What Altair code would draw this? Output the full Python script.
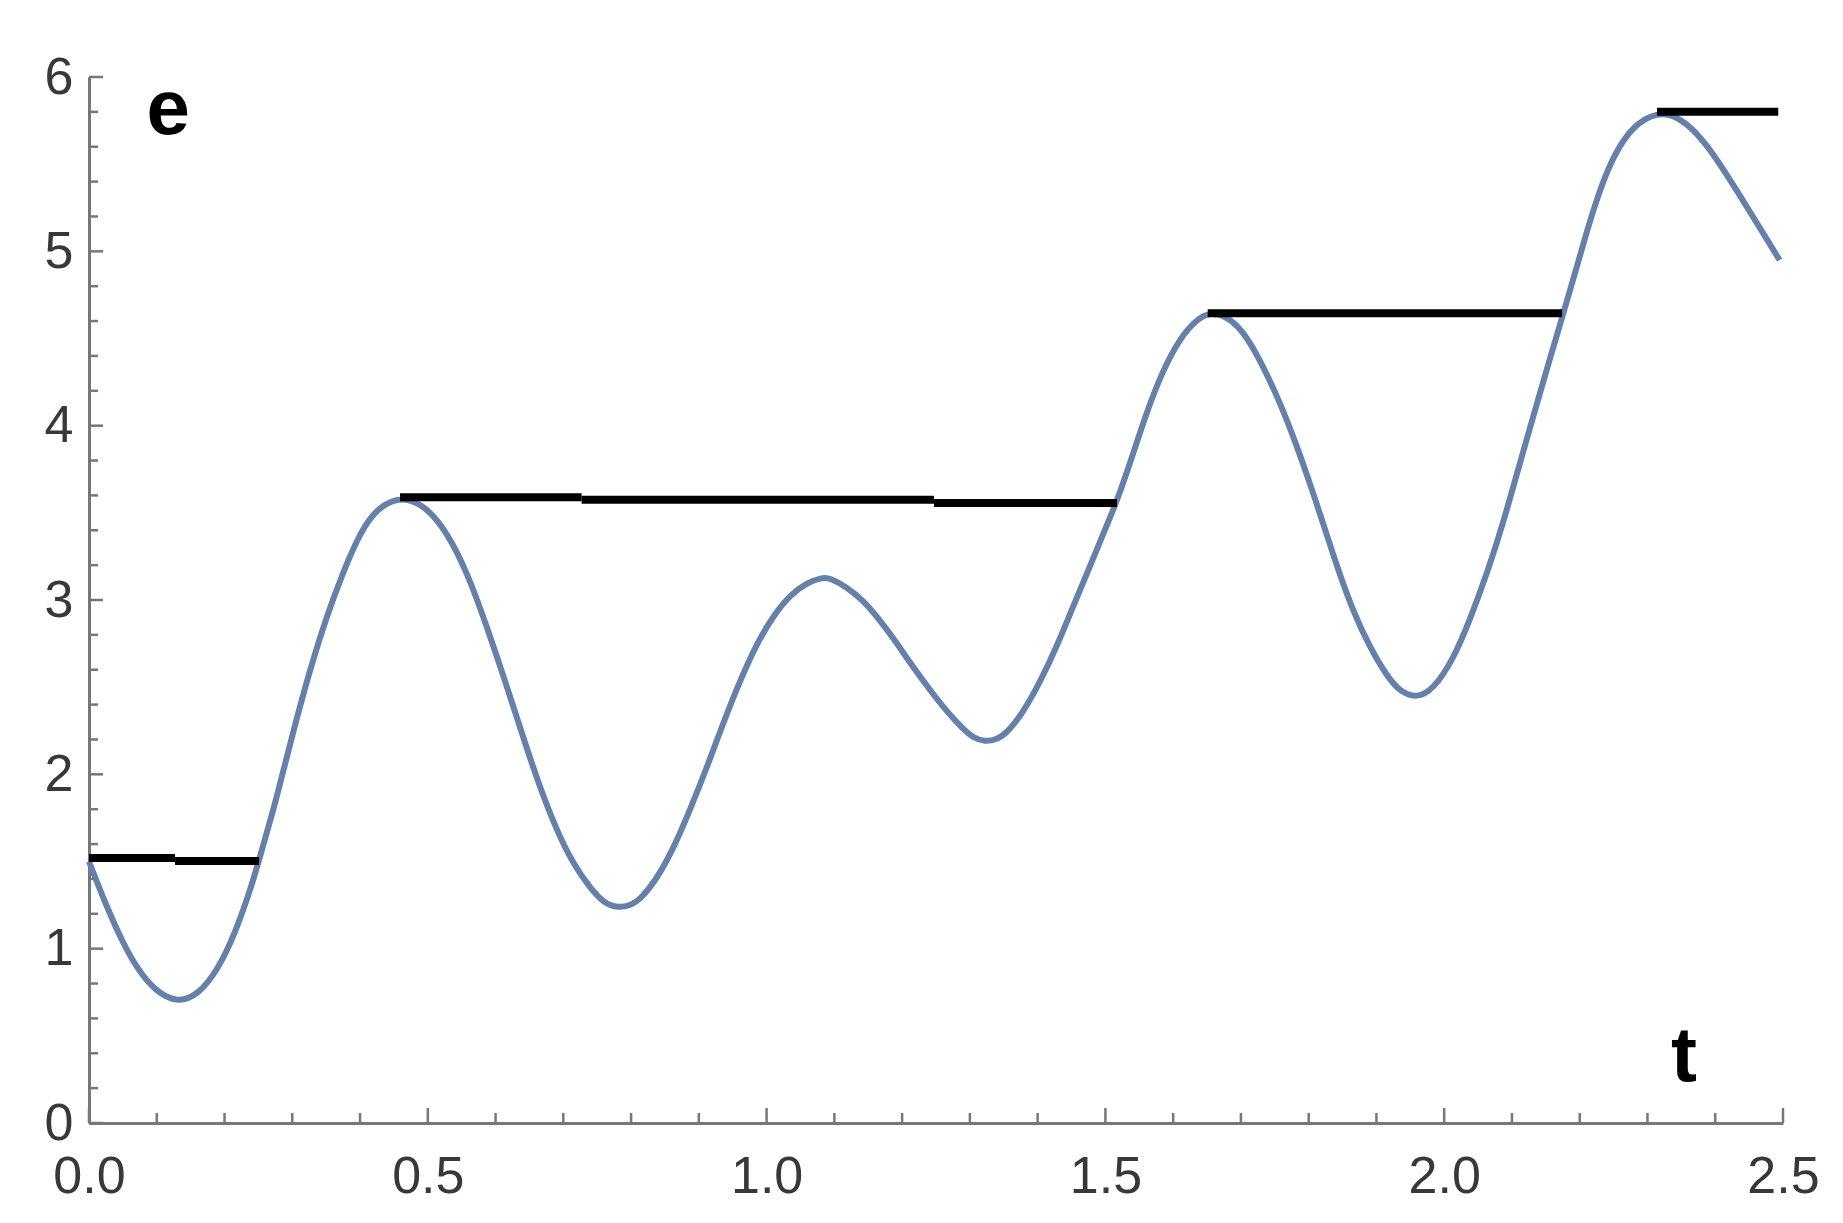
import altair as alt
import pandas as pd

# ---- data ----
T = [0.000, 0.024, 0.049, 0.072, 0.097, 0.130, 0.161, 0.190, 0.215, 0.240, 0.251,
     0.270, 0.277, 0.301, 0.326, 0.351, 0.375, 0.400, 0.425, 0.463, 0.499, 0.528,
     0.558, 0.587, 0.617, 0.646, 0.666, 0.690, 0.714, 0.739, 0.760, 0.781, 0.800,
     0.813, 0.838, 0.862, 0.887, 0.912, 0.936, 0.961, 0.986, 1.010, 1.035, 1.060,
     1.083, 1.094, 1.118, 1.142, 1.167, 1.192, 1.216, 1.241, 1.266, 1.290, 1.305,
     1.322, 1.340, 1.355, 1.378, 1.403, 1.429, 1.452, 1.477, 1.500, 1.516, 1.536,
     1.561, 1.585, 1.610, 1.632, 1.654, 1.684, 1.709, 1.733, 1.758, 1.783, 1.806,
     1.817, 1.842, 1.865, 1.890, 1.916, 1.935, 1.960, 1.983, 2.013, 2.038, 2.063,
     2.087, 2.112, 2.137, 2.161, 2.186, 2.200, 2.220, 2.240, 2.259, 2.284, 2.323,
     2.358, 2.388, 2.417, 2.446, 2.476, 2.495]
E = [1.50, 1.26, 1.04, 0.88, 0.76, 0.688, 0.734, 0.878, 1.08, 1.36, 1.51,
     1.77, 1.87, 2.24, 2.60, 2.91, 3.16, 3.385, 3.53, 3.60, 3.53, 3.39,
     3.16, 2.85, 2.50, 2.15, 1.92, 1.68, 1.49, 1.35, 1.26, 1.233, 1.25,
     1.28, 1.40, 1.57, 1.796, 2.04, 2.295, 2.54, 2.754, 2.91, 3.03, 3.10,
     3.13, 3.125, 3.075, 3.00, 2.886, 2.754, 2.616, 2.484, 2.36, 2.26, 2.21,
     2.186, 2.20, 2.238, 2.352, 2.524, 2.74, 2.96, 3.19, 3.41, 3.557, 3.78,
     4.08, 4.32, 4.50, 4.60, 4.655, 4.62, 4.51, 4.34, 4.13, 3.88, 3.62,
     3.49, 3.19, 2.94, 2.73, 2.56, 2.473, 2.438, 2.484, 2.656, 2.886, 3.15,
     3.44, 3.79, 4.13, 4.45, 4.78, 4.97, 5.24, 5.46, 5.61, 5.74, 5.81,
     5.74, 5.61, 5.44, 5.26, 5.07, 4.95]

SEG_START = [0.0, 0.127, 0.459, 0.727, 1.247, 1.651, 2.314]
SEG_END = [0.127, 0.251, 0.727, 1.247, 1.517, 2.174, 2.493]
SEG_LEVEL = [1.52, 1.503, 3.59, 3.575, 3.557, 4.645, 5.80]

X_MAJOR = [0.0, 0.5, 1.0, 1.5, 2.0, 2.5]
X_MINOR = [0.1, 0.2, 0.3, 0.4, 0.6, 0.7, 0.8, 0.9, 1.1, 1.2, 1.3, 1.4,
           1.6, 1.7, 1.8, 1.9, 2.1, 2.2, 2.3, 2.4]
Y_MAJOR = [0, 1, 2, 3, 4, 5, 6]
Y_MINOR = [0.2, 0.4, 0.6, 0.8, 1.2, 1.4, 1.6, 1.8, 2.2, 2.4, 2.6, 2.8,
           3.2, 3.4, 3.6, 3.8, 4.2, 4.4, 4.6, 4.8, 5.2, 5.4, 5.6, 5.8]

W, H = 1694, 1046
AXIS_COLOR = "#777777"
LINE_COLOR = "#6480ab"
FONT = "Liberation Sans"

curve = pd.DataFrame({"t": T, "e": E})
segs = pd.DataFrame({"t": SEG_START, "t1": SEG_END, "e": SEG_LEVEL})

SX = alt.Scale(domain=[0, 2.5], nice=False, zero=False)
SY = alt.Scale(domain=[0, 6], nice=False, zero=False)
AX = alt.Axis(title=None, values=X_MAJOR, format=".1f", ticks=False, grid=False,
              domainColor=AXIS_COLOR, domainWidth=3, labelFont=FONT,
              labelFontSize=52, labelColor="#383838", labelPadding=28,
              labelFlush=False, labelOverlap=False)
AY = alt.Axis(title=None, values=Y_MAJOR, format="d", ticks=False, grid=False,
              domainColor=AXIS_COLOR, domainWidth=3, labelFont=FONT,
              labelFontSize=52, labelColor="#383838", labelPadding=16,
              labelOverlap=False)

line = alt.Chart(curve).mark_line(
    color=LINE_COLOR, strokeWidth=6, interpolate="basis"
).encode(
    x=alt.X("t:Q", scale=SX, axis=AX),
    y=alt.Y("e:Q", scale=SY, axis=AY),
)

rules = alt.Chart(segs).mark_rule(color="black", strokeWidth=8).encode(
    x=alt.X("t:Q", scale=SX, axis=AX),
    x2="t1:Q",
    y=alt.Y("e:Q", scale=SY, axis=AY),
)

def yticks(vals, length):
    return alt.Chart(pd.DataFrame({"e": vals})).mark_rule(
        color=AXIS_COLOR, strokeWidth=2.5
    ).encode(
        y=alt.Y("e:Q", scale=SY, axis=AY),
        x=alt.value(0),
        x2=alt.value(length),
    )

def xticks(vals, length):
    return alt.Chart(pd.DataFrame({"t": vals})).mark_rule(
        color=AXIS_COLOR, strokeWidth=2.5
    ).encode(
        x=alt.X("t:Q", scale=SX, axis=AX),
        y=alt.value(H),
        y2=alt.value(H - length),
    )

lab_e = alt.Chart(pd.DataFrame({"t": [0.117], "e": [5.806]})).mark_text(
    text="e", font=FONT, fontWeight="bold", fontSize=78, color="black",
    align="center", baseline="middle"
).encode(x=alt.X("t:Q", scale=SX, axis=AX), y=alt.Y("e:Q", scale=SY, axis=AY))

lab_t = alt.Chart(pd.DataFrame({"t": [2.354], "e": [0.373]})).mark_text(
    text="t", font=FONT, fontWeight="bold", fontSize=78, color="black",
    align="center", baseline="middle"
).encode(x=alt.X("t:Q", scale=SX, axis=AX), y=alt.Y("e:Q", scale=SY, axis=AY))

chart = alt.layer(
    yticks(Y_MINOR, 9), yticks(Y_MAJOR, 14),
    xticks(X_MINOR, 10), xticks(X_MAJOR, 15),
    line, rules, lab_e, lab_t
).properties(
    width=W, height=H,
    autosize=alt.AutoSizeParams(type="none"),
    padding={"left": 81, "top": 69, "right": 50, "bottom": 90},
    background="white",
).configure_view(stroke=None)

chart.save("out.html", embed_options={"renderer": "svg", "actions": False})
